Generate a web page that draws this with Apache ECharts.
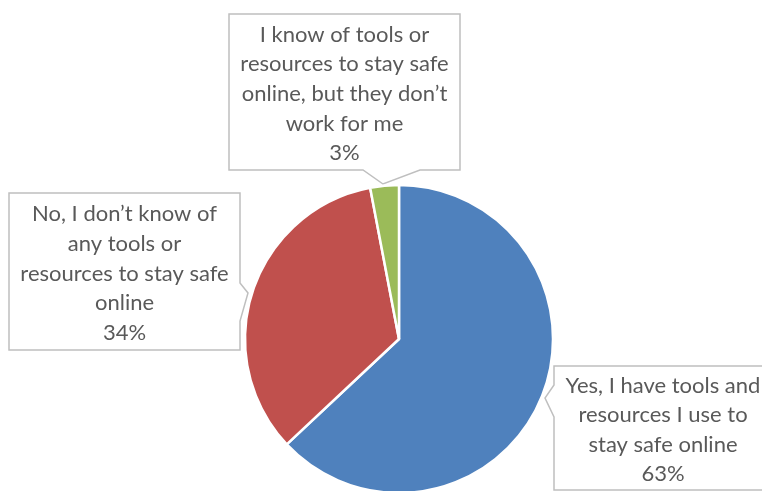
<!DOCTYPE html>
<html>
<head>
<meta charset="utf-8">
<script src="https://cdn.jsdelivr.net/npm/echarts@6/dist/echarts.min.js"></script>
<style>
  html, body { margin: 0; padding: 0; background: #fff; }
  #chart { width: 762px; height: 491px; }
</style>
</head>
<body>
<div id="chart"></div>
<script>
// Survey answers (percent of respondents)
const categories = [
  'Yes, I have tools and\nresources I use to\nstay safe online',
  'No, I don\u2019t know of\nany tools or\nresources to stay safe\nonline',
  'I know of tools or\nresources to stay safe\nonline, but they don\u2019t\nwork for me'
];
const values = [63, 34, 3];
const colors = ['#4f81bd', '#c0504d', '#9bbb59'];

// Callout boxes: rectangle, the side carrying the pointer, the pointer's base span and its tip
const callouts = [
  { x0: 554, y0: 366, x1: 772, y1: 490, side: 'left',   n0: 385, n1: 417, tip: [545, 398] },
  { x0: 9,   y0: 193, x1: 240, y1: 350, side: 'right',  n0: 283, n1: 321, tip: [248, 293] },
  { x0: 229, y0: 14,  x1: 460, y1: 170, side: 'bottom', n0: 363, n1: 420, tip: [383, 184] }
];

function calloutPoints(c) {
  const { x0, y0, x1, y1, n0, n1, tip } = c;
  if (c.side === 'left') {
    return [[x0, y0], [x1, y0], [x1, y1], [x0, y1], [x0, n1], tip, [x0, n0]];
  }
  if (c.side === 'right') {
    return [[x0, y0], [x1, y0], [x1, n0], tip, [x1, n1], [x1, y1], [x0, y1]];
  }
  return [[x0, y0], [x1, y0], [x1, y1], [n1, y1], tip, [n0, y1], [x0, y1]];
}

const chart = echarts.init(document.getElementById('chart'), null, { renderer: 'canvas' });

chart.setOption({
  backgroundColor: '#ffffff',
  animation: false,
  graphic: callouts.map(c => ({
    type: 'polygon',
    z: 0,
    shape: { points: calloutPoints(c) },
    style: { fill: '#ffffff', stroke: '#bfbfbf', lineWidth: 1.5 }
  })),
  series: [{
    type: 'pie',
    z: 2,
    center: [399, 339],
    radius: [0, 154],
    startAngle: 90,
    clockwise: true,
    itemStyle: { borderColor: '#ffffff', borderWidth: 2.5 },
    labelLine: { show: false },
    label: {
      show: true,
      position: 'inside',
      overflow: 'none',
      formatter: '{b}\n{c}%',
      fontFamily: 'Lato',
      fontSize: 22,
      lineHeight: 29.6,
      color: '#595959',
      align: 'center'
    },
    labelLayout: function (p) {
      const c = callouts[p.dataIndex];
      return {
        x: (c.x0 + c.x1) / 2,
        y: (c.y0 + c.y1) / 2 + 2,
        align: 'center',
        verticalAlign: 'middle'
      };
    },
    emphasis: { disabled: true },
    data: categories.map((name, i) => ({
      name: name,
      value: values[i],
      itemStyle: { color: colors[i] }
    }))
  }]
});
</script>
</body>
</html>
